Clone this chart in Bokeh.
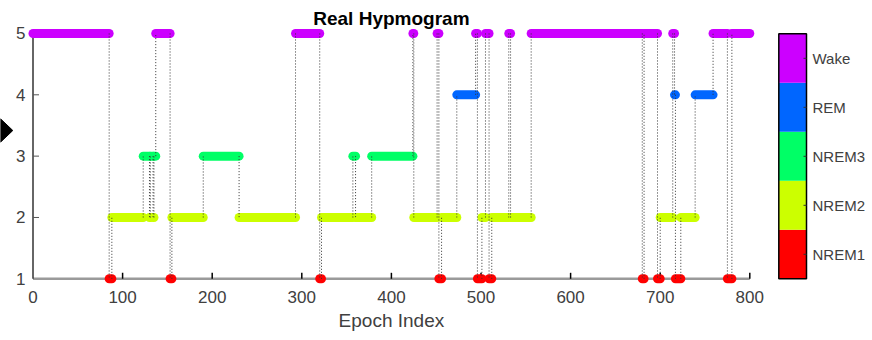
from bokeh.plotting import figure
from bokeh.models import ColumnDataSource, Range1d
from bokeh.core.properties import value
from bokeh.layouts import row
from bokeh.embed import file_html
from bokeh.resources import INLINE

# ---- data: hypnogram as runs (start epoch, stage) ----
run_starts = [0, 85, 88, 123, 130, 131, 134, 135, 137, 153,
              155, 190, 230, 293, 320, 322, 357, 360, 378, 424,
              425, 451, 453, 456, 473, 494, 496, 501, 505, 509,
              512, 531, 533, 556, 680, 682, 697, 700, 714, 716,
              717, 723, 739, 759, 775, 780]
run_stages = [5, 1, 2, 3, 2, 3, 2, 3, 5, 1,
              2, 3, 2, 5, 1, 2, 3, 2, 3, 5,
              2, 5, 1, 2, 4, 5, 1, 2, 5, 1,
              2, 5, 2, 5, 1, 5, 1, 2, 5, 4,
              1, 2, 4, 5, 1, 5]
last_epoch = 800

stage_values = [1, 2, 3, 4, 5]
stage_names = ["NREM1", "NREM2", "NREM3", "REM", "Wake"]
stage_colors = ["#FF0000", "#CCFF00", "#00FF66", "#0066FF", "#CC00FF"]
x_ticks = [0, 100, 200, 300, 400, 500, 600, 700, 800]
title_text = "Real Hypmogram"
x_label = "Epoch Index"

FONT = "Liberation Sans"
TXT = "#404040"
H = 340


def bare(fig):
    fig.axis.visible = False
    fig.grid.visible = False
    fig.outline_line_color = None
    fig.background_fill_color = "white"
    fig.border_fill_color = "white"
    return fig


def full_frame(w, xr, yr):
    return bare(figure(width=w, height=H, output_backend="svg", toolbar_location=None,
                       x_range=xr, y_range=yr, min_border_left=0, min_border_right=0,
                       min_border_top=0, min_border_bottom=0))


# ---- left strip with the black pointer triangle seen in the screenshot ----
tri = full_frame(13, Range1d(0, 13), Range1d(H, 0))
tri.patch(x=[0, 12.3, 0], y=[118.3, 130, 141.7], fill_color="black", line_color="black")

# ---- main figure (frame covers the whole figure; texts placed through scales) ----
PX_PER_EPOCH = 0.896
PX_PER_STAGE = 61.33
X0_PX = 32.5 - 13      # px of epoch 0, relative to this figure
Y1_PX = 278.3          # px of stage 1 from the top
W = 755
p = full_frame(W, Range1d(-X0_PX / PX_PER_EPOCH, (W - X0_PX) / PX_PER_EPOCH),
               Range1d(1 - (H - Y1_PX) / PX_PER_STAGE, 1 + Y1_PX / PX_PER_STAGE))


def dx(px):
    return px / PX_PER_EPOCH


def dy(px):
    return px / PX_PER_STAGE


# axis lines drawn at the data origin
p.segment(x0=[0], y0=[1], x1=[last_epoch], y1=[1], line_color="#9a9a9a", line_width=2.5)
p.segment(x0=[0], y0=[1], x1=[0], y1=[5], line_color="#333333", line_width=1.5)
# tick marks (inward)
n = len(x_ticks) - 1
p.segment(x0=x_ticks[1:], y0=[1] * n, x1=x_ticks[1:], y1=[1 + dy(6)] * n,
          line_color="black", line_width=1.5)
p.segment(x0=[0] * 4, y0=stage_values[1:], x1=[dx(6)] * 4, y1=stage_values[1:],
          line_color="#555555", line_width=1)

# tick labels, axis label, title
p.text(x=[-dx(7.5)] * len(stage_values), y=stage_values, text=[str(v) for v in stage_values],
       text_font=value(FONT), text_font_size=value("17px"), text_color=TXT,
       text_align="right", text_baseline="middle")
p.text(x=x_ticks, y=[1 - dy(18.5)] * len(x_ticks), text=[str(t) for t in x_ticks],
       text_font=value(FONT), text_font_size=value("17px"), text_color=TXT,
       text_align="center", text_baseline="middle")
p.text(x=[last_epoch / 2], y=[1 - dy(42)], text=[x_label],
       text_font=value(FONT), text_font_size=value("19px"), text_color=TXT,
       text_align="center", text_baseline="middle")
p.text(x=[last_epoch / 2], y=[1 + dy(Y1_PX - 17.5)], text=[title_text],
       text_font=value(FONT), text_font_size=value("19px"), text_font_style="bold",
       text_color="black", text_align="center", text_baseline="middle")

# stage bars
ends = run_starts[1:] + [last_epoch]
cols = [stage_colors[s - 1] for s in run_stages]
bars = ColumnDataSource(dict(x0=run_starts, x1=ends, y=run_stages, c=cols))
p.segment(x0="x0", y0="y", x1="x1", y1="y", line_color="c", line_width=9,
          line_cap="round", source=bars)

# dotted transitions
trans = ColumnDataSource(dict(x=run_starts[1:], y0=run_stages[:-1], y1=run_stages[1:]))
p.segment(x0="x", y0="y0", x1="x", y1="y1", line_color="#333333", line_width=1,
          line_dash="1 2", source=trans)

# ---- colour bar figure (full frame, bar spans 0..1 in x, 0.5..5.5 in y) ----
CW = 872 - 13 - W
CB_LEFT, CB_RIGHT = 778.3 - 768, 806 - 768
CB_TOP, CB_BOTTOM = 33.3, 278.3
cpx = CB_RIGHT - CB_LEFT
cpy = (CB_BOTTOM - CB_TOP) / 5
cb = full_frame(CW, Range1d(-CB_LEFT / cpx, (CW - CB_LEFT) / cpx),
                Range1d(0.5 - (H - CB_BOTTOM) / cpy, 5.5 + CB_TOP / cpy))
cb.quad(left=0, right=1, bottom=[v - 0.5 for v in stage_values],
        top=[v + 0.5 for v in stage_values], fill_color=stage_colors, line_color=None)
cb.quad(left=[0], right=[1], bottom=[0.5], top=[5.5], fill_color=None,
        line_color="black", line_width=1.5)
cb.segment(x0=[1 - 3 / cpx] * 5, x1=[1] * 5, y0=stage_values, y1=stage_values,
           line_color="#333333", line_width=1)
cb.text(x=[1 + 6 / cpx] * 5, y=stage_values, text=stage_names,
        text_font=value(FONT), text_font_size=value("15px"), text_color=TXT,
        text_align="left", text_baseline="middle")

layout = row(tri, p, cb)
open("out.html", "w").write(file_html(layout, INLINE))
